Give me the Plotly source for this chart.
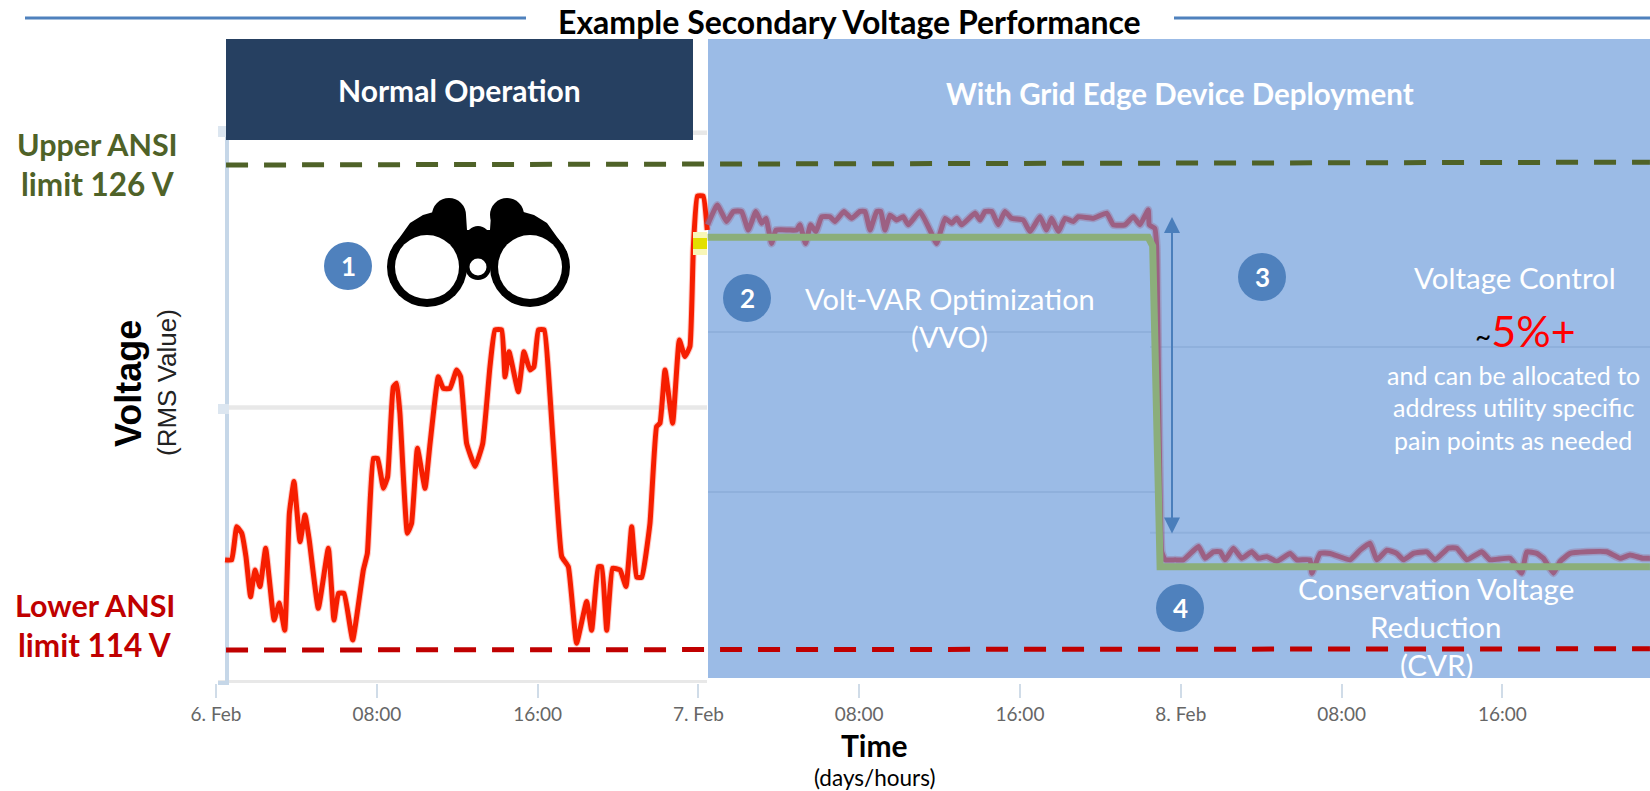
import pandas as pd
import plotly.graph_objects as go

START = pd.Timestamp("2020-02-06 00:00")

# ---------- data (hours since 6 Feb 00:00, volts) ----------
normal_hours = [0.45,0.78,1.03,1.28,1.49,1.72,1.94,2.19,2.47,2.69,2.89,3.15,3.42,3.65,3.88,4.18,4.43,4.64,5.09,5.59,5.87,6.09,6.37,6.80,7.33,7.53,7.83,8.04,8.33,8.54,8.82,8.99,9.15,9.52,9.73,10.02,10.40,10.65,11.06,11.31,11.64,11.97,12.17,12.47,12.89,13.27,13.63,13.88,14.21,14.38,14.58,15.04,15.32,15.62,15.82,16.04,16.33,16.62,16.95,17.20,17.53,17.94,18.44,18.69,19.02,19.19,19.44,19.73,20.10,20.40,20.68,20.93,21.18,21.59,21.92,22.09,22.34,22.72,23.05,23.33,23.58,23.75,23.95,24.24,24.44]
normal_volts = [116.23,116.23,117.05,116.89,116.31,115.32,115.98,115.57,116.52,115.57,114.74,115.16,114.49,117.38,118.17,116.68,117.34,116.72,115.03,116.52,114.74,115.40,115.40,114.25,115.98,116.39,118.74,118.74,118.00,118.29,120.51,120.60,119.86,116.89,117.13,118.99,118.00,119.11,120.76,120.47,120.47,120.93,120.76,119.11,118.54,119.11,121.01,121.92,121.92,120.76,121.38,120.39,121.38,120.93,121.01,121.92,121.92,120.27,117.79,116.31,116.06,114.17,115.20,114.49,116.06,116.06,114.49,116.02,115.98,115.57,117.05,115.80,115.80,117.13,119.53,119.61,120.93,119.61,121.67,121.26,121.51,123.98,125.23,125.23,124.39]

device_hours = [24.46,24.94,25.40,25.74,26.15,26.48,26.86,27.15,27.36,27.64,27.86,28.47,28.89,29.05,29.33,29.58,29.85,30.13,30.55,30.79,31.24,31.62,32.04,32.29,32.54,32.87,33.07,33.28,33.53,33.86,34.19,34.44,35.02,35.52,35.85,36.27,36.60,36.85,37.10,37.76,38.01,38.26,38.59,38.92,39.25,39.58,40.16,40.50,40.99,41.32,41.57,41.91,42.24,42.65,42.90,43.65,44.31,44.64,45.22,45.64,45.97,46.38,46.43,46.71,46.80,47.05,47.22,47.72,48.13,48.88,49.21,49.62,49.96,50.20,50.62,51.03,51.53,51.86,52.28,52.77,53.44,53.77,54.43,54.52,54.93,55.43,56.42,56.92,57.42,57.75,58.25,58.74,59.08,59.57,60.24,60.65,61.31,61.73,62.23,62.97,63.39,64.38,64.96,65.21,65.71,66.04,66.54,66.87,67.37,68.20,69.19,69.86,70.35,70.98,71.34]
device_volts = [124.52,125.01,124.60,124.85,124.85,124.39,124.85,124.56,124.68,124.06,124.39,124.39,124.39,124.52,124.06,124.52,124.35,124.72,124.72,124.60,124.85,124.68,124.85,124.85,124.39,124.85,124.85,124.39,124.76,124.64,124.72,124.52,124.85,124.39,124.06,124.68,124.56,124.68,124.52,124.81,124.64,124.85,124.85,124.52,124.85,124.68,124.64,124.35,124.72,124.39,124.68,124.35,124.68,124.60,124.72,124.68,124.81,124.52,124.52,124.72,124.52,124.89,124.52,124.43,123.98,116.43,116.23,116.23,116.23,116.56,116.27,116.43,116.43,116.23,116.52,116.27,116.43,116.27,116.31,116.19,116.39,116.23,116.23,115.90,116.39,116.39,116.23,116.47,116.64,116.23,116.47,116.39,116.23,116.39,116.43,116.23,116.52,116.52,116.23,116.43,116.23,116.27,115.90,116.43,116.39,116.27,115.90,116.19,116.39,116.43,116.43,116.27,116.35,116.27,116.27]

target_hours = [24.46,46.38,46.60,46.97,71.34]
target_volts = [124.21,124.21,124.00,116.06,116.06]

limit_hours = [0.5,71.34]
upper_limit_volts = [126.0,126.07]
lower_limit_volts = [114.0,114.03]

tick_hours = [0,8,16,24,32,40,48,56,64]
tick_labels = ["6. Feb","08:00","16:00","7. Feb","08:00","16:00","8. Feb","08:00","16:00"]


def when(hours):
    return [START + pd.Timedelta(hours=h) for h in hours]


# ---------- page geometry ----------
W, H = 1650, 791
LEFT, BOTTOM = 216, 683
X_END_H = (W - LEFT) / 20.1
V_TOP, V_BOTTOM = 126 + 165 / 40.417, 126 - (683 - 165) / 40.417


def px(x):
    return (x - LEFT) / (W - LEFT)


def py(y):
    return 1 - y / BOTTOM


shapes = []


def rect(x0, y0, x1, y1, color, line=None):
    shapes.append(dict(type="rect", xref="paper", yref="paper", x0=px(x0), x1=px(x1), y0=py(y0), y1=py(y1),
                       fillcolor=color, line=dict(width=0), layer="above"))


def circle(cx, cy, r, color):
    shapes.append(dict(type="circle", xref="paper", yref="paper", x0=px(cx - r), x1=px(cx + r),
                       y0=py(cy + r), y1=py(cy - r), fillcolor=color, line=dict(width=0), layer="above"))


def backdrop(x0, y0, x1, y1, color):
    shapes.append(dict(type="rect", xref="paper", yref="paper", x0=px(x0), x1=px(x1), y0=py(y0), y1=py(y1),
                       fillcolor=color, line=dict(width=0), layer="below"))


def hline(x0, x1, volts, color, width):
    shapes.append(dict(type="line", xref="paper", yref="y", x0=px(x0), x1=px(x1), y0=volts, y1=volts,
                       line=dict(color=color, width=width), layer="below"))


# grey grid and axis stubs
for v in (126.8, 120, 113.2):
    hline(218, 707, v, "#E8E8E8", 4.5)
backdrop(225, 137, 229, 683, "#C6D7E8")
backdrop(218, 404, 229, 414, "#DCE6F0")
backdrop(218, 126, 229, 137, "#DCE6F0")
backdrop(218, 681, 229, 685, "#C6D7E8")

# blue overlay panel and its faint grid
backdrop(708, 39, W, 678, "#9BBBE6")
hline(708, 1157, 121.87, "#8FB0DC", 2)
hline(708, 1157, 117.91, "#8FB0DC", 2)
hline(1150, W, 121.50, "#8FB0DC", 2)
hline(1150, W, 116.90, "#8FB0DC", 2)

# title rules, navy header
rect(25, 16.5, 526, 19.5, "#4F81BD")
rect(1174, 16.5, W, 19.5, "#4F81BD")
rect(226, 39, 693, 140, "#264061")

# yellow marker
rect(693, 232, 707, 255, "#F8F6B8")
rect(693, 238, 707, 249, "#E3E000")

# binoculars
pts = [(390, 252), (400, 237), (410, 223), (423, 215), (437, 211), (466, 215), (467, 230), (490, 230), (491, 215),
       (520, 211), (534, 215), (547, 223), (557, 237), (567, 252), (530, 267), (427, 267)]
path = "M " + " L ".join(f"{px(a):.5f},{py(b):.5f}" for a, b in pts) + " Z"
shapes.append(dict(type="path", xref="paper", yref="paper", path=path, fillcolor="black", line=dict(width=0), layer="above"))
circle(449, 215, 17, "black")
circle(507, 215, 17, "black")
circle(478, 238, 12, "black")
circle(427, 267, 40, "black")
circle(530, 267, 40, "black")
circle(478, 267, 13, "black")
circle(427, 267, 32, "white")
circle(530, 267, 32, "white")
circle(478, 267, 8.5, "white")

# number badges
badge = [("1", 348, 266), ("2", 747, 298), ("3", 1262, 277), ("4", 1180, 608)]
for _, cx, cy in badge:
    circle(cx, cy, 24, "#4F81BD")

# ---------- traces ----------
fig = go.Figure()
curve = dict(shape="spline", smoothing=0.35)
fig.add_trace(go.Scatter(x=when(normal_hours), y=normal_volts, mode="lines", line=dict(color="rgba(255,60,40,0.28)", width=7, **curve)))
fig.add_trace(go.Scatter(x=when(normal_hours), y=normal_volts, mode="lines", line=dict(color="#F61E00", width=5, **curve)))
fig.add_trace(go.Scatter(x=when(device_hours), y=device_volts, mode="lines", line=dict(color="rgba(156,96,131,0.35)", width=8, **curve)))
fig.add_trace(go.Scatter(x=when(device_hours), y=device_volts, mode="lines", line=dict(color="#9C6083", width=5, **curve)))
fig.add_trace(go.Scatter(x=when(target_hours), y=target_volts, mode="lines", line=dict(color="#8BAE7B", width=7)))
fig.add_trace(go.Scatter(x=when(limit_hours), y=upper_limit_volts, mode="lines", line=dict(color="#4F6228", width=5, dash="22px,16px")))
fig.add_trace(go.Scatter(x=when(limit_hours), y=lower_limit_volts, mode="lines", line=dict(color="#C00000", width=5, dash="22px,16px")))

# ---------- text ----------
anns = []


def text(x, y, s, size, color="black", bold=False, family="Lato", angle=0):
    anns.append(dict(xref="paper", yref="paper", x=px(x), y=py(y), text=f"<b>{s}</b>" if bold else s,
                     showarrow=False, xanchor="center", yanchor="middle", textangle=angle,
                     font=dict(family=family, size=size, color=color)))


text(849, 21, "Example Secondary Voltage Performance", 32, bold=True)
text(459, 90, "Normal Operation", 30, "white", True)
text(1180, 93, "With Grid Edge Device Deployment", 29.5, "white", True)
text(98, 144, "Upper ANSI", 30.5, "#4F6228", True)
text(98, 184, "limit 126 V", 31.5, "#4F6228", True)
text(95, 605, "Lower ANSI", 30.5, "#C00000", True)
text(95, 645, "limit 114 V", 31.5, "#C00000", True)
text(128, 384, "Voltage", 36, bold=True, family="Liberation Sans", angle=-90)
text(167, 383, "(RMS Value)", 26, "#222222", family="Liberation Sans", angle=-90)
text(874, 745, "Time", 30, bold=True)
text(874, 777, "(days/hours)", 22.5)
text(950, 298, "Volt-VAR Optimization", 29, "white")
text(950, 337, "(VVO)", 29, "white")
text(1515, 278, "Voltage Control", 29.5, "white")
text(1525, 330, '<span style="font-size:28px;color:black">~</span>5%+', 43, "#FF0000")
text(1513, 375, "and can be allocated to", 25, "white")
text(1513, 407, "address utility specific", 25, "white")
text(1513, 440, "pain points as needed", 25, "white")
text(1436, 588, "Conservation Voltage", 29.5, "white")
text(1436, 626, "Reduction", 29.5, "white")
text(1436, 664, "(CVR)", 29.5, "white")
for label, cx, cy in badge:
    text(cx, cy, label, 26, "white", True)

# double-headed span arrow
anns.append(dict(xref="paper", yref="paper", axref="pixel", ayref="pixel", x=px(1172), y=py(217),
                 ax=0, ay=318, text="", showarrow=True, arrowhead=2, arrowside="end+start",
                 arrowsize=1.6, arrowwidth=2, arrowcolor="#4A7EBB"))

fig.update_layout(
    width=W, height=H, autosize=False, showlegend=False, hovermode=False,
    margin=dict(l=LEFT, r=0, t=0, b=H - BOTTOM, pad=0),
    plot_bgcolor="white", paper_bgcolor="white",
    shapes=shapes, annotations=anns,
    xaxis=dict(type="date", range=[START, START + pd.Timedelta(hours=X_END_H)], showgrid=False, zeroline=False,
               tickmode="array", tickvals=when(tick_hours), ticktext=tick_labels, ticks="outside", ticklen=14,
               tickwidth=1.5, tickcolor="#D0DCE8", showline=False,
               tickfont=dict(family="Lato", size=19, color="#666666")),
    yaxis=dict(range=[V_BOTTOM, V_TOP], showgrid=False, zeroline=False, showticklabels=False, ticks="", showline=False),
)
fig.write_html("out.html", config={"displayModeBar": False},
               post_script="document.body.style.margin='0';document.body.style.overflow='hidden';")
